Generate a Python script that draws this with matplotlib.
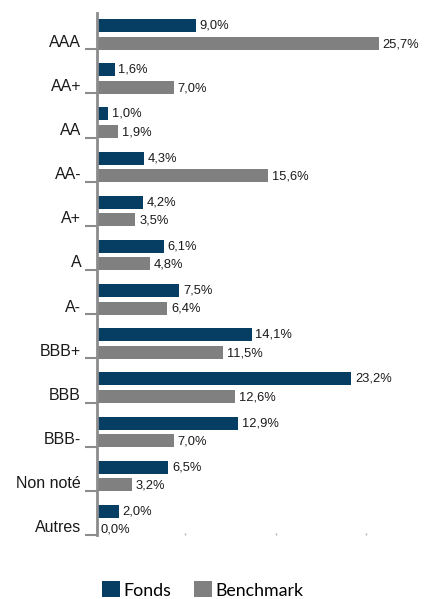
import matplotlib
matplotlib.use("Agg")
import matplotlib.pyplot as plt
from matplotlib.patches import Patch
import numpy as np

categories = ["AAA", "AA+", "AA", "AA-", "A+", "A", "A-", "BBB+", "BBB", "BBB-", "Non noté", "Autres"]
fonds = [9.0, 1.6, 1.0, 4.3, 4.2, 6.1, 7.5, 14.1, 23.2, 12.9, 6.5, 2.0]
benchmark = [25.7, 7.0, 1.9, 15.6, 3.5, 4.8, 6.4, 11.5, 12.6, 7.0, 3.2, 0.0]
series_names = ["Fonds", "Benchmark"]

c_fonds = "#063d63"
c_bench = "#808080"

W, H = 426, 599
fig = plt.figure(figsize=(W / 100, H / 100), dpi=100)
ax_left = 97 / W
ax_top = 1 - 13 / H
ax_bot = 1 - 535 / H
ax = fig.add_axes([ax_left, ax_bot, 1 - ax_left, ax_top - ax_bot])

idx = np.arange(len(categories))
h = 0.295
y_f = idx + 0.466
y_b = idx + 0.862
ax.barh(y_f, fonds, height=h, color=c_fonds, label=series_names[0])
ax.barh(y_b, benchmark, height=h, color=c_bench, label=series_names[1])

xmax = 30.0
ax.set_xlim(0, xmax)
ax.set_ylim(12.0, 0.18)

lab_font = dict(family=["Liberation Sans", "DejaVu Sans"], fontsize=9.3, color="#1a1a1a")
for y, v in zip(y_f, fonds):
    ax.text(v + 0.35, y, f"{v:.1f}%".replace(".", ","), va="center", ha="left", **lab_font)
for y, v in zip(y_b, benchmark):
    ax.text(v + 0.35, y + 0.02, f"{v:.1f}%".replace(".", ","), va="center", ha="left", **lab_font)

# category labels
for i, c in enumerate(categories):
    ax.text(-1.45, i + 0.84, c, ha="right", va="center",
            family=["Liberation Sans", "DejaVu Sans"], fontsize=11.5, color="#1a1a1a")

ax.set_yticks(idx + 1)
ax.set_yticklabels([])
ax.tick_params(axis="y", direction="out", length=9, width=1.5, color="#8c8c8c")

ax.set_xticks([8.05, 16.3, 24.5])
ax.set_xticklabels([])
ax.tick_params(axis="x", direction="in", length=1.5, width=1.0, color="#b0b0b0")

for s in ["top", "right", "bottom"]:
    ax.spines[s].set_visible(False)
ax.spines["left"].set_color("#8c8c8c")
ax.spines["left"].set_linewidth(2.0)

handles = [Patch(facecolor=c_fonds), Patch(facecolor=c_bench)]
fig.legend(handles, series_names, loc="center left", bbox_to_anchor=(86 / W, 1 - 590 / H),
           ncol=2, frameon=False, handlelength=1.0, handleheight=1.0, handletextpad=0.2,
           columnspacing=1.3, prop=dict(family=["Lato", "DejaVu Sans"], size=12.8))

fig.savefig("out.png", dpi=100)
